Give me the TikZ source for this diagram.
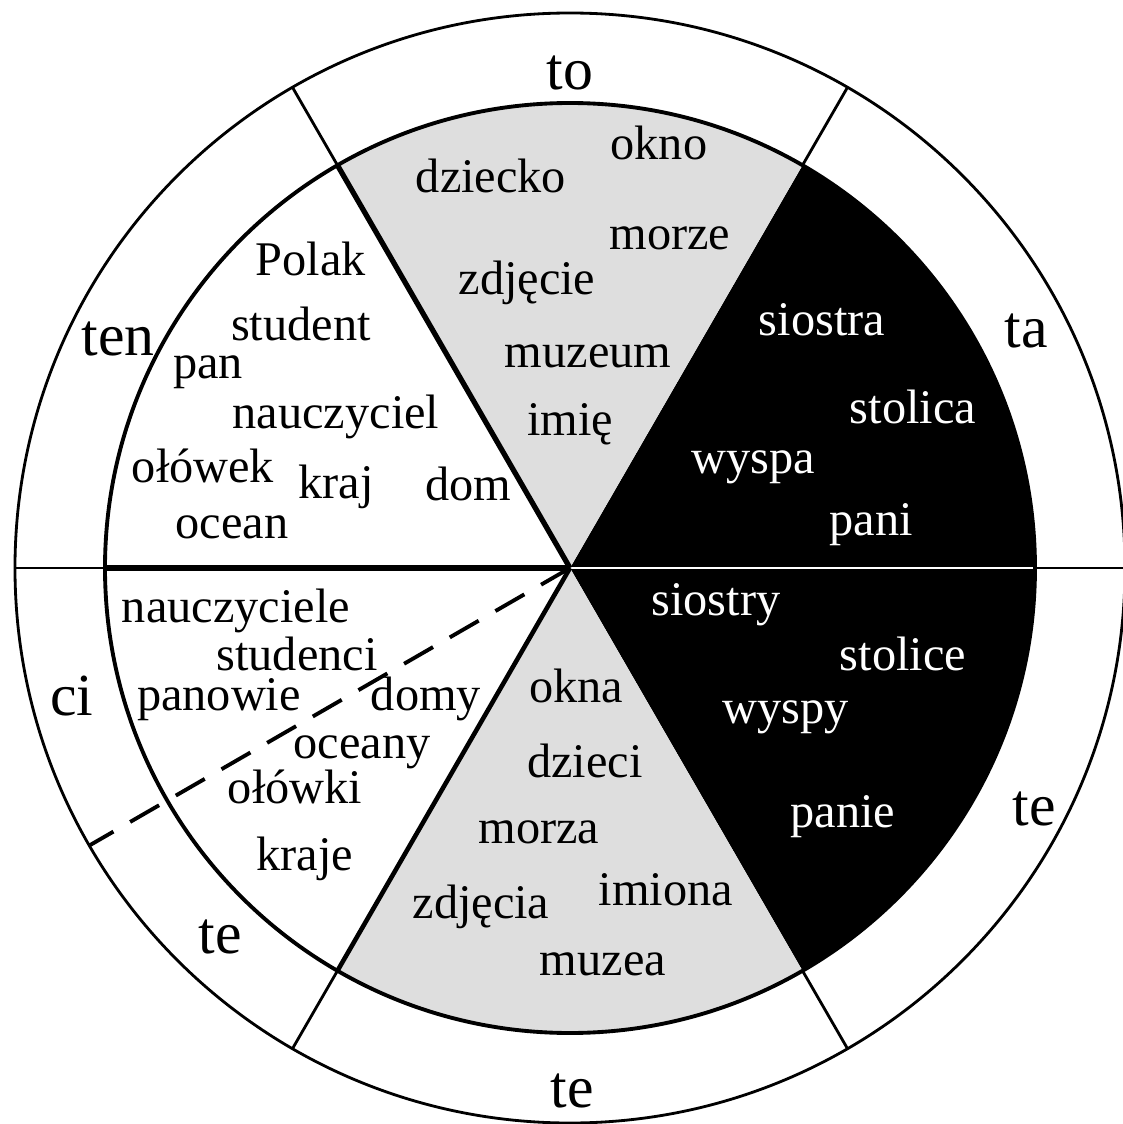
\documentclass[tikz,border=0pt]{standalone}
\usepackage{fontspec}
\setmainfont{Liberation Serif}
\definecolor{sectorgray}{gray}{0.87}
\newcommand\wordsize{\fontsize{27.5}{30}\selectfont}
\newcommand\pronsize{\fontsize{34}{36}\selectfont}
\begin{document}
\begin{tikzpicture}[
  word/.style={font=\wordsize, anchor=base, inner sep=0pt},
  pron/.style={font=\pronsize, anchor=base, inner sep=0pt},
  negword/.style={word, text=white}]
  \useasboundingbox (-11.4,-11.12) rectangle (11.06,11.36);
  \coordinate (c) at (0,0);
  % sectors
  \fill[black] (c) -- (-60:9.3) arc (-60:60:9.3) -- cycle;
  \fill[sectorgray] (c) -- (60:9.3) arc (60:120:9.3) -- cycle;
  \fill[sectorgray] (c) -- (240:9.3) arc (240:300:9.3) -- cycle;
  \draw[white, line width=1.5pt] (c) -- (0:9.3);
  \draw[line width=3pt] (c) -- (120:9.3);
  \draw[line width=3pt] (c) -- (180:9.3);
  \draw[line width=2.6pt] (c) -- (240:9.3);
  \draw[line width=2.2pt] (c) circle (9.3);
  \draw[line width=1.6pt] (c) circle (11.1);
  % ring
  \foreach \a in {0,60,120,180,240,300}
    \draw[line width=1.6pt] (\a:9.3) -- (\a:11.1);
  \draw[line width=2.2pt, dash pattern=on 19pt off 11pt] (c) -- (210:11.1);
  % ring labels
  \node[pron] (to) at (0,9.56) {to};
  \node[pron] (ta) at (9.12,4.42) {ta};
  \node[pron] (teR) at (9.28,-5.14) {te};
  \node[pron] (teB) at (0.04,-10.78) {te};
  \node[pron] (teL) at (-7.0,-7.7) {te};
  \node[pron] (ci) at (-9.96,-2.94) {ci};
  \node[pron] (ten) at (-9.04,4.24) {ten};
  % neuter singular
  \node[word] (okno) at (1.78,8.16) {okno};
  \node[word] (dziecko) at (-1.58,7.5) {dziecko};
  \node[word] (morze) at (2.0,6.36) {morze};
  \node[word] (zdjecie) at (-0.86,5.46) {zdjęcie};
  \node[word] (muzeum) at (0.36,4.02) {muzeum};
  \node[word] (imie) at (0,2.66) {imię};
  % masculine singular
  \node[word] (polak) at (-5.18,5.86) {Polak};
  \node[word] (student) at (-5.38,4.56) {student};
  \node[word] (pan) at (-7.24,3.8) {pan};
  \node[word] (nauczyciel) at (-4.68,2.8) {nauczyciel};
  \node[word] (olowek) at (-7.34,1.72) {ołówek};
  \node[word] (kraj) at (-4.68,1.4) {kraj};
  \node[word] (dom) at (-2.04,1.36) {dom};
  \node[word] (ocean) at (-6.76,0.6) {ocean};
  % feminine singular
  \node[negword] (siostra) at (5.04,4.66) {siostra};
  \node[negword] (stolica) at (6.86,2.9) {stolica};
  \node[negword] (wyspa) at (3.66,1.9) {wyspa};
  \node[negword] (pani) at (6.02,0.66) {pani};
  % feminine plural
  \node[negword] (siostry) at (2.92,-0.94) {siostry};
  \node[negword] (stolice) at (6.66,-2.04) {stolice};
  \node[negword] (wyspy) at (4.32,-3.1) {wyspy};
  \node[negword] (panie) at (5.46,-5.18) {panie};
  % masculine plural
  \node[word] (nauczyciele) at (-6.68,-1.08) {nauczyciele};
  \node[word] (studenci) at (-5.46,-2.04) {studenci};
  \node[word] (panowie) at (-7.02,-2.84) {panowie};
  \node[word] (domy) at (-2.88,-2.84) {domy};
  \node[word] (oceany) at (-4.16,-3.8) {oceany};
  \node[word] (olowki) at (-5.5,-4.7) {ołówki};
  \node[word] (kraje) at (-5.3,-6.04) {kraje};
  % neuter plural
  \node[word] (okna) at (0.12,-2.68) {okna};
  \node[word] (dzieci) at (0.3,-4.18) {dzieci};
  \node[word] (morza) at (-0.62,-5.5) {morza};
  \node[word] (imiona) at (1.92,-6.74) {imiona};
  \node[word] (zdjecia) at (-1.78,-7.0) {zdjęcia};
  \node[word] (muzea) at (0.66,-8.14) {muzea};
\end{tikzpicture}
\end{document}
